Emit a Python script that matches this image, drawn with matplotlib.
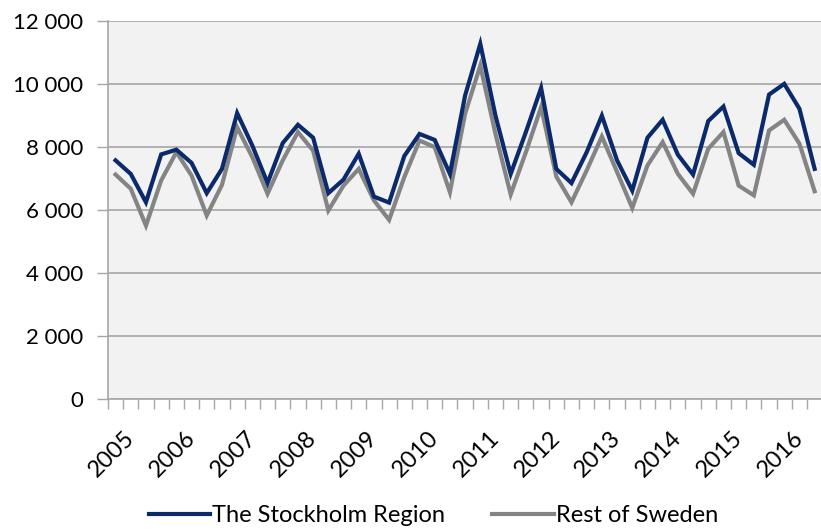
import matplotlib
matplotlib.use("Agg")
import matplotlib.pyplot as plt
import matplotlib.transforms as mtransforms
from matplotlib.ticker import FuncFormatter
import numpy as np

# Quarterly values, 2005 Q1 - 2016 Q3
years = [str(y) for y in range(2005, 2017)]
stockholm = [7580, 7150, 6250, 7770, 7920, 7500, 6540, 7310, 9080, 8050,
             6860, 8130, 8710, 8300, 6540, 6970, 7790, 6430, 6240, 7720,
             8420, 8230, 7150, 9640, 11280, 9000, 7150, 8480, 9880, 7310,
             6860, 7840, 9000, 7580, 6620, 8300, 8870, 7760, 7130, 8830,
             9290, 7810, 7440, 9670, 10010, 9220, 7310]
rest_of_sweden = [7130, 6680, 5510, 6940, 7840, 7100, 5830, 6800, 8630, 7680,
                  6520, 7580, 8480, 7890, 5990, 6780, 7310, 6310, 5690, 7050,
                  8210, 8000, 6570, 9060, 10590, 8420, 6500, 7840, 9270, 7070,
                  6250, 7260, 8340, 7210, 6070, 7420, 8160, 7150, 6520, 7950,
                  8480, 6780, 6470, 8530, 8870, 8110, 6600]

plt.rcParams['font.family'] = ['Lato', 'DejaVu Sans']

fig = plt.figure(figsize=(8.21, 5.30), dpi=100)
ax = fig.add_axes([0.1315, 0.247, 0.87, 0.713])
ax.set_facecolor('#F2F2F2')

x = np.arange(len(stockholm))
ax.plot(x, stockholm, color='#0B2A6B', lw=3.0, label='The Stockholm Region',
        solid_joinstyle='miter', zorder=3)
ax.plot(x, rest_of_sweden, color='#848484', lw=3.0, label='Rest of Sweden',
        solid_joinstyle='miter', zorder=2)

ax.set_ylim(0, 12000)
ax.set_yticks(np.arange(0, 12001, 2000))
ax.yaxis.set_major_formatter(FuncFormatter(lambda v, p: f"{int(v):,}".replace(',', ' ')))
ax.grid(axis='y', color='#A6A6A6', lw=1.2)
ax.set_axisbelow(True)

ax.set_xlim(-0.5, len(x) - 0.5)
ax.set_xticks(np.arange(-0.5, len(x), 1))
ax.set_xticklabels([])
ax.set_xticks(np.arange(0, len(x), 4), minor=True)
ax.set_xticklabels(years, minor=True, rotation=45, ha='right',
                   rotation_mode='anchor', fontsize=17)
ax.tick_params(axis='x', which='major', length=7, color='#A6A6A6', width=1)
ax.tick_params(axis='x', which='minor', length=0, pad=20)
ax.tick_params(axis='y', length=8, color='#A6A6A6', width=1, labelsize=16, pad=10)

# nudge year labels to the right, like the original
shift = mtransforms.ScaledTranslation(8 / 100, 0, fig.dpi_scale_trans)
for lab in ax.get_xticklabels(minor=True):
    lab.set_transform(lab.get_transform() + shift)

for s in ['top', 'right']:
    ax.spines[s].set_visible(False)
for s in ['left', 'bottom']:
    ax.spines[s].set_color('#A6A6A6')
    ax.spines[s].set_linewidth(1.2)

fig.legend(loc='center', bbox_to_anchor=(0.528, 0.027), ncol=2, frameon=False,
           fontsize=17, handlelength=2.6, columnspacing=2.0, handletextpad=0.1)

fig.savefig('out.png', dpi=100)
